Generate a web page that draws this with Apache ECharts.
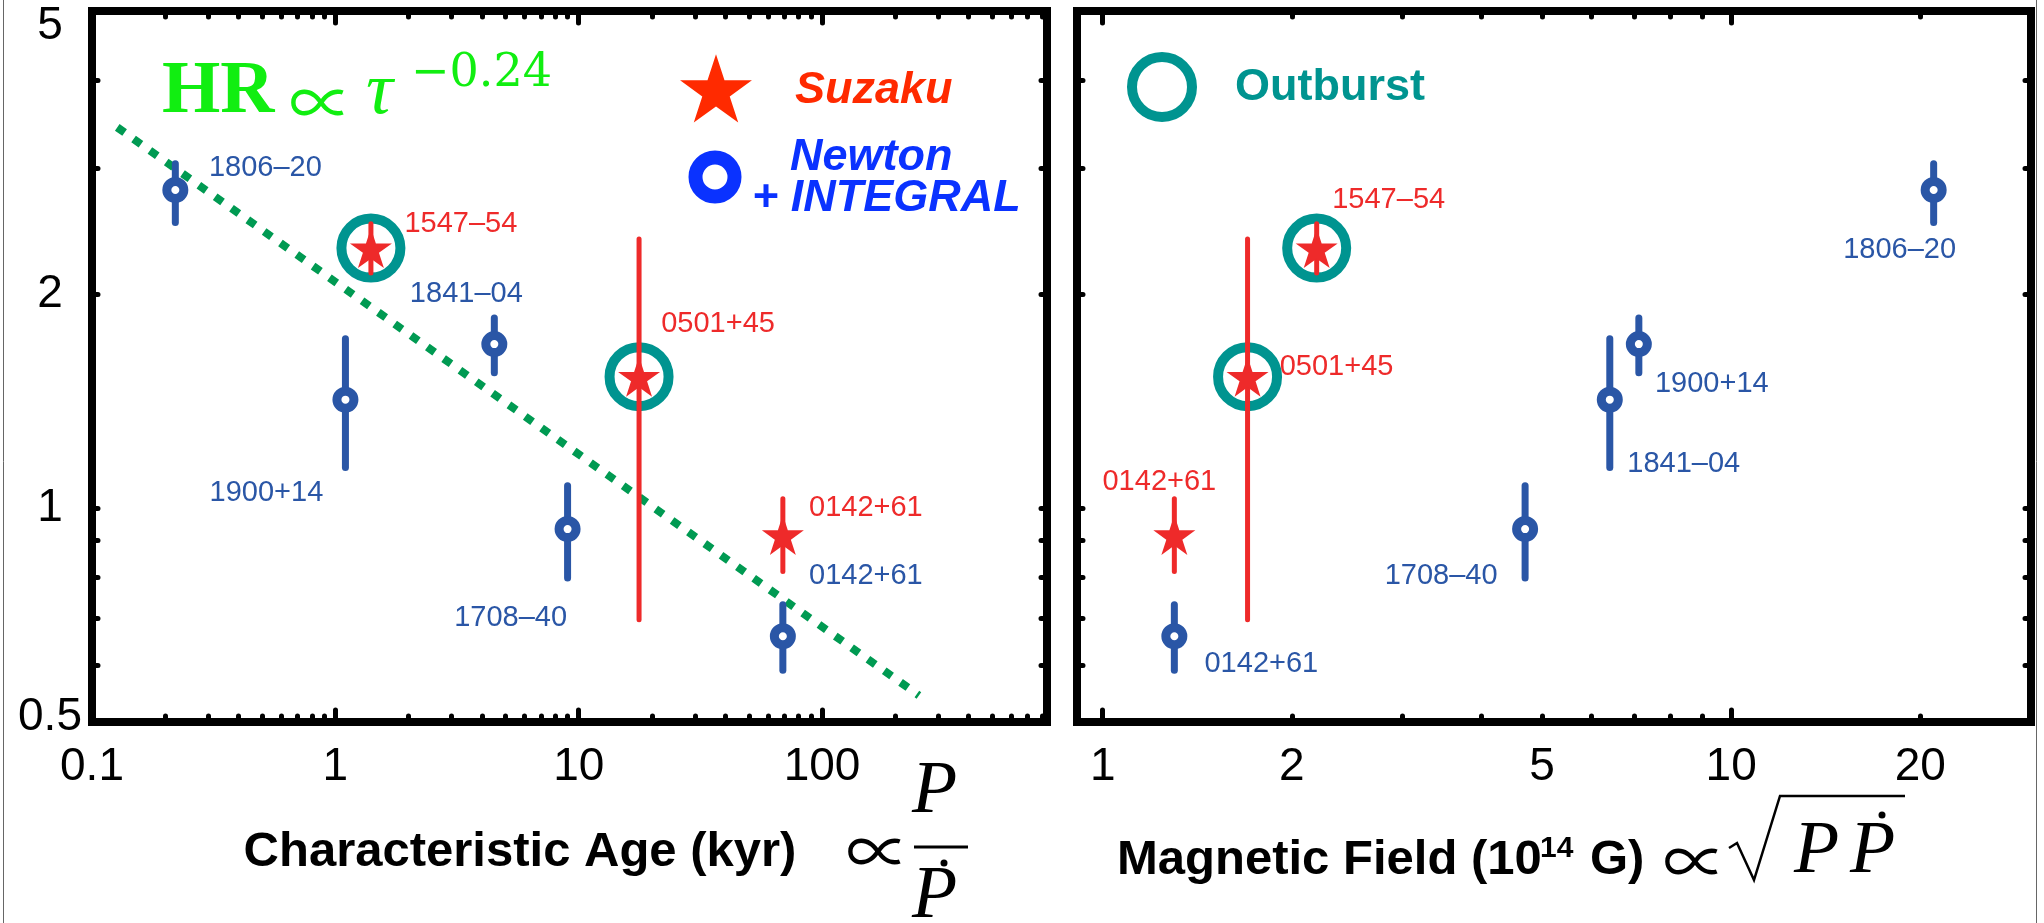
<!DOCTYPE html>
<html><head><meta charset="utf-8">
<script src="https://cdn.jsdelivr.net/npm/echarts@6/dist/echarts.min.js"></script>
<style>html,body{margin:0;padding:0;background:#fff}#c{width:2044px;height:923px}</style>
</head><body><div id="c"></div>
<script>
// ---------------- data ----------------
const newtonNames = ['1806\u201320', '1900+14', '1841\u201304', '1708\u201340', '0142+61'];
const newtonAge = [0.22, 1.10, 4.5, 9.0, 69];
const newtonB = [21.0, 6.41, 7.13, 4.70, 1.30];
const newtonHR = [2.80, 1.42, 1.70, 0.934, 0.660];
const newtonLo = [2.52, 1.14, 1.55, 0.797, 0.591];
const newtonHi = [3.05, 1.73, 1.85, 1.075, 0.731];
// texts written next to the Newton points in the right panel (as in the figure)
const newtonNamesRight = ['1806\u201320', '1841\u201304', '1900+14', '1708\u201340', '0142+61'];

const suzakuNames = ['1547\u201354', '0501+45', '0142+61'];
const suzakuAge = [1.40, 17.7, 69];
const suzakuB = [2.19, 1.70, 1.30];
const suzakuHR = [2.32, 1.53, 0.916];
const suzakuLo = [2.14, 0.696, 0.814];
const suzakuHi = [2.51, 2.39, 1.03];
const outburst = [true, true, false];

const fitAge = [0.127, 250];
const fitHR = [3.43, 0.545];

const ageLabels = [0.1, 1, 10, 100];
const ageMajorTicks = [1, 10, 100];
const ageMinorTicks = [0.2, 0.3, 0.4, 0.5, 0.6, 0.7, 0.8, 0.9, 2, 3, 4, 5, 6, 7, 8, 9, 20, 30, 40, 50, 60, 70, 80, 90, 200, 300, 400, 500, 600, 700, 800];
const bLabels = [1, 2, 5, 10, 20];
const bMajorTicks = [1, 10];
const bMinorTicks = [2, 3, 4, 5, 6, 7, 8, 9, 20];
const hrLabels = [0.5, 1, 2, 5];
const hrTicks = [0.6, 0.7, 0.8, 0.9, 1, 2, 3, 4];

// ---------------- layout / style ----------------
const leftNewtonOff = [[90, -22], [-79, 93], [-28, -50], [-57, 89], [83, -60]];
const leftSuzakuOff = [[90, -24], [79, -53], [83, -27]];
const rightNewtonOff = [[-34, 60], [74, 64], [73, 40], [-84, 47], [87, 28]];
const rightSuzakuOff = [[72, -48], [89, -10], [-15, -53]];

const BLUE = '#2a56a6', RED = '#ee2a2a', TEAL = '#009490', FITG = '#009a52';
const SANS = '"Liberation Sans", Arial, Helvetica, sans-serif';
const SERIF = '"Liberation Serif", "Times New Roman", serif';
const PROPF = '"Noto Sans CJK JP", "DejaVu Serif", serif';
const STAR = 'path://M100 0 L122.45 69.1 L195.1 69.1 L136.33 111.8 L158.8 180.9 L100 138.2 L41.2 180.9 L63.67 111.8 L4.9 69.1 L77.55 69.1 Z';

function starPoints(cx, cy, R) {
  const pts = [];
  for (let k = 0; k < 10; k++) {
    const r = (k % 2 === 0) ? R : R * 0.382;
    const a = -Math.PI / 2 + k * Math.PI / 5;
    pts.push([cx + r * Math.cos(a), cy + r * Math.sin(a)]);
  }
  return pts;
}

const fmt = v => String(Math.round(v * 1000) / 1000);
const tickStyle = {color: '#000', width: 5, cap: 'round'};

function xAxesFor(grid, min, max, labels, major, minor) {
  const base = {type: 'log', logBase: 10, gridIndex: grid, min: min, max: max,
    splitLine: {show: false}, axisLine: {show: false}};
  return [
    Object.assign({}, base, {position: 'bottom',
      axisTick: {show: true, inside: true, length: 12, customValues: major, lineStyle: tickStyle},
      axisLabel: {show: true, customValues: labels, fontSize: 46, fontFamily: SANS, color: '#000', margin: 22, formatter: fmt}}),
    Object.assign({}, base, {position: 'bottom',
      axisTick: {show: true, inside: true, length: 6, customValues: minor, lineStyle: tickStyle}, axisLabel: {show: false}}),
    Object.assign({}, base, {position: 'top',
      axisTick: {show: true, inside: true, length: 12, customValues: major, lineStyle: tickStyle}, axisLabel: {show: false}}),
    Object.assign({}, base, {position: 'top',
      axisTick: {show: true, inside: true, length: 6, customValues: minor, lineStyle: tickStyle}, axisLabel: {show: false}})
  ];
}
function yAxesFor(grid, showLabels) {
  const base = {type: 'log', logBase: 10, gridIndex: grid, min: 0.5, max: 5,
    splitLine: {show: false}, axisLine: {show: false}};
  return [
    Object.assign({}, base, {position: 'left',
      axisTick: {show: true, inside: true, length: 6, customValues: hrTicks, lineStyle: tickStyle},
      axisLabel: {show: showLabels, customValues: hrLabels, fontSize: 46, fontFamily: SANS, color: '#000',
        align: 'center', margin: 42,
        formatter: v => { const s = fmt(v); if (v > 4.9) return '{t|' + s + '}'; if (v < 0.51) return '{b|' + s + '}'; return s; },
        rich: {t: {fontSize: 46, fontFamily: SANS, color: '#000', padding: [30, 0, 0, 0]},
               b: {fontSize: 46, fontFamily: SANS, color: '#000', padding: [0, 0, 10, 0]}}}}),
    Object.assign({}, base, {position: 'right',
      axisTick: {show: true, inside: true, length: 6, customValues: hrTicks, lineStyle: tickStyle},
      axisLabel: {show: false}})
  ];
}

function errSeries(xi, yi, xs, lo, hi, color, width) {
  return {type: 'custom', xAxisIndex: xi, yAxisIndex: yi, z: 3,
    data: xs.map((x, i) => [x, lo[i], hi[i]]),
    encode: {x: 0, y: [1, 2]},
    renderItem: function (params, api) {
      const p1 = api.coord([api.value(0), api.value(1)]);
      const p2 = api.coord([api.value(0), api.value(2)]);
      return {type: 'line', shape: {x1: p1[0], y1: p1[1], x2: p2[0], y2: p2[1]},
        style: {stroke: color, lineWidth: width, lineCap: 'round'}};
    }};
}
function labelled(xs, ys, names, offs, color) {
  return xs.map((x, i) => ({value: [x, ys[i]],
    label: {show: true, formatter: names[i], offset: offs[i], position: 'inside', align: 'center',
      verticalAlign: 'middle', fontSize: 29, fontFamily: SANS, color: color}}));
}
function panelSeries(xi, yi, nX, sX, nNames, nOff, sOff) {
  return [
    {type: 'scatter', xAxisIndex: xi, yAxisIndex: yi, z: 2, symbol: 'circle', symbolSize: 59,
      itemStyle: {color: 'rgba(0,0,0,0)', borderColor: TEAL, borderWidth: 10, opacity: 1},
      data: sX.map((x, i) => [x, suzakuHR[i]]).filter((d, i) => outburst[i])},
    errSeries(xi, yi, nX, newtonLo, newtonHi, BLUE, 7),
    errSeries(xi, yi, sX, suzakuLo, suzakuHi, RED, 5),
    {type: 'scatter', xAxisIndex: xi, yAxisIndex: yi, z: 4, symbol: 'circle', symbolSize: 17,
      itemStyle: {color: '#fff', borderColor: BLUE, borderWidth: 9, opacity: 1},
      data: labelled(nX, newtonHR, nNames, nOff, BLUE)},
    {type: 'scatter', xAxisIndex: xi, yAxisIndex: yi, z: 4, symbol: STAR, symbolSize: 42, symbolKeepAspect: true,
      itemStyle: {color: RED, opacity: 1},
      data: labelled(sX, suzakuHR, suzakuNames, sOff, RED)}
  ];
}

function txt(text, x, y, font, fill, align) {
  return {type: 'text', z: 10, style: {text: text, x: x, y: y, font: font, fill: fill,
    align: align || 'left', textAlign: align || 'left', verticalAlign: 'middle', textVerticalAlign: 'middle'}};
}
function prop(cx, cy, fill) {
  return txt('\u221D', cx, cy, '64px ' + PROPF, fill, 'center');
}

const option = {
  animation: false,
  backgroundColor: '#fff',
  grid: [
    {left: 92, top: 11, width: 955, height: 711, show: true, borderColor: '#000', borderWidth: 8},
    {left: 1077, top: 11, width: 954, height: 711, show: true, borderColor: '#000', borderWidth: 8}
  ],
  xAxis: [].concat(
    xAxesFor(0, 0.1, 840, ageLabels, ageMajorTicks, ageMinorTicks),
    xAxesFor(1, 0.91, 30, bLabels, bMajorTicks, bMinorTicks)),
  yAxis: [].concat(yAxesFor(0, true), yAxesFor(1, false)),
  series: [
    {type: 'line', xAxisIndex: 0, yAxisIndex: 0, z: 1, symbol: 'none',
      lineStyle: {color: FITG, width: 8, type: [9, 11], cap: 'butt', opacity: 1},
      data: fitAge.map((a, i) => [a, fitHR[i]])}
  ].concat(
    panelSeries(0, 0, newtonAge, suzakuAge, newtonNames, leftNewtonOff, leftSuzakuOff),
    panelSeries(4, 2, newtonB, suzakuB, newtonNamesRight, rightNewtonOff, rightSuzakuOff)),
  graphic: [
    {type: 'line', shape: {x1: 3.5, y1: 0, x2: 3.5, y2: 923}, style: {stroke: '#666', lineWidth: 1}},
    {type: 'line', shape: {x1: 2036.5, y1: 0, x2: 2036.5, y2: 923}, style: {stroke: '#666', lineWidth: 1}},
    // left legend
    {type: 'polygon', z: 10, shape: {points: starPoints(716, 92, 37.8)}, style: {fill: '#ff2a00'}},
    txt('Suzaku', 795, 91, 'italic bold 45px ' + SANS, '#ff2a00'),
    {type: 'circle', z: 10, shape: {cx: 715, cy: 177, r: 19.5}, style: {fill: 'none', stroke: '#0a32ff', lineWidth: 14}},
    txt('Newton', 790, 158, 'italic bold 45px ' + SANS, '#0a32ff'),
    txt('+ INTEGRAL', 752, 199, 'italic bold 45px ' + SANS, '#0a32ff'),
    // formula
    txt('HR', 162, 93, 'bold 75px ' + SERIF, '#11ee11'),
    prop(321, 102, '#11ee11'),
    txt('\u03C4', 366, 93, 'italic 75px ' + SERIF, '#11ee11'),
    txt('\u22120.24', 411, 74, '46px "DejaVu Serif", serif', '#11ee11'),
    // right legend
    {type: 'circle', z: 10, shape: {cx: 1162, cy: 87, r: 30}, style: {fill: 'none', stroke: TEAL, lineWidth: 10}},
    txt('Outburst', 1235, 88, 'bold 45px ' + SANS, TEAL),
    // left axis title
    txt('Characteristic Age (kyr)', 520, 852, 'bold 49px ' + SANS, '#000', 'center'),
    prop(878, 851, '#000'),
    txt('P', 912, 793, 'italic 74px ' + SERIF, '#000'),
    {type: 'line', shape: {x1: 914, y1: 847, x2: 968, y2: 847}, style: {stroke: '#000', lineWidth: 3}},
    txt('P', 912, 898, 'italic 74px ' + SERIF, '#000'),
    {type: 'circle', shape: {cx: 944, cy: 863, r: 3.5}, style: {fill: '#000'}},
    // right axis title
    txt('Magnetic Field (10', 1117, 860, 'bold 49px ' + SANS, '#000'),
    txt('14', 1540, 849, 'bold 30px ' + SANS, '#000'),
    txt('G)', 1590, 860, 'bold 49px ' + SANS, '#000'),
    prop(1695, 861, '#000'),
    {type: 'polyline', shape: {points: [[1729, 848], [1737, 843], [1754, 880], [1780, 796], [1905, 796]]},
      style: {stroke: '#000', lineWidth: 2.5, fill: null}},
    txt('P', 1794, 853, 'italic 74px ' + SERIF, '#000'),
    txt('P', 1850, 853, 'italic 74px ' + SERIF, '#000'),
    {type: 'circle', shape: {cx: 1882, cy: 815, r: 3.5}, style: {fill: '#000'}}
  ]
};
const chart = echarts.init(document.getElementById('c'), null, {renderer: 'canvas'});
chart.setOption(option);
</script></body></html>
